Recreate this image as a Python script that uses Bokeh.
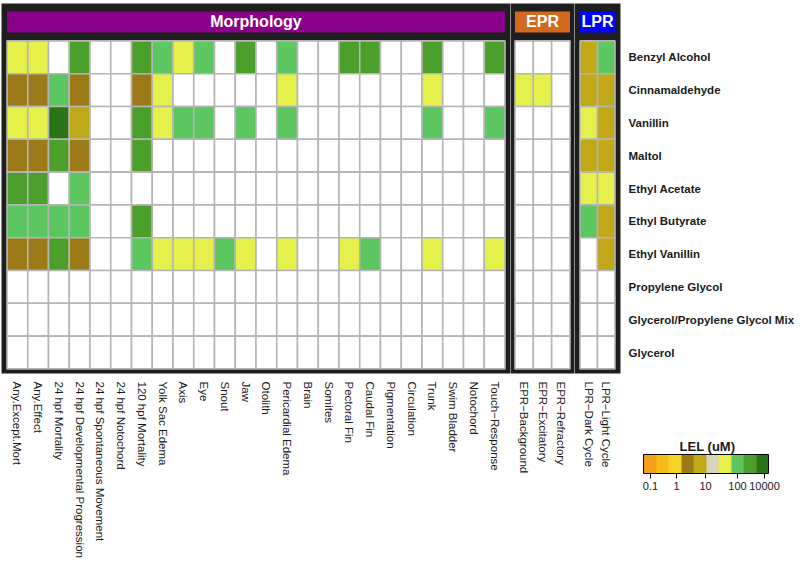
from bokeh.plotting import figure
from bokeh.models import (FactorRange, ColumnDataSource, LinearColorMapper, ColorBar,
                          FixedTicker, AllLabels)
from bokeh.transform import dodge
from bokeh.layouts import row
from bokeh.core.properties import value
from bokeh.embed import file_html
from bokeh.resources import INLINE

# ---------------- data ----------------
compounds = ["Benzyl Alcohol", "Cinnamaldehyde", "Vanillin", "Maltol", "Ethyl Acetate",
             "Ethyl Butyrate", "Ethyl Vanillin", "Propylene Glycol",
             "Glycerol/Propylene Glycol Mix", "Glycerol"]

morphology_endpoints = ["Any.Except.Mort", "Any.Effect", "24 hpf Mortality",
                        "24 hpf Developmental Progression", "24 hpf Spontaneous Movement",
                        "24 hpf Notochord", "120 hpf Mortality", "Yolk Sac Edema", "Axis", "Eye",
                        "Snout", "Jaw", "Otolith", "Pericardial Edema", "Brain", "Somites",
                        "Pectoral Fin", "Caudal Fin", "Pigmentation", "Circulation", "Trunk",
                        "Swim Bladder", "Notochord", "Touch\u2212Response"]
epr_endpoints = ["EPR\u2212Background", "EPR\u2212Excitatory", "EPR\u2212Refractory"]
lpr_endpoints = ["LPR\u2212Dark Cycle", "LPR\u2212Light Cycle"]

panel_names = ["Morphology", "EPR", "LPR"]
panel_colors = ["#8B008B", "#D2691E", "#0000FF"]

# LEL colour classes (0 = lowest LEL ... 9 = highest), None = no effect
palette = ["#F6A01A", "#F8BB1E", "#F5D426", "#9C7A18", "#C0A817",
           "#D8D5BC", "#E6F04A", "#5CC760", "#4C9F2B", "#2A7418"]
legend_title = "LEL (uM)"
legend_ticks = [0.56, 2.64, 4.96, 7.52, 9.68]
legend_labels = ["0.1", "1", "10", "100", "10000"]

N = None
# 24 morphology endpoints + 3 EPR + 2 LPR
benzyl_alcohol = [6, 6, N, 8, N, N, 8, 7, 6, 7, N, 8, N, 7, N, N, 8, 8, N, N, 8, N, N, 8,
                  N, N, N, 4, 7]
cinnamaldehyde = [3, 3, 7, 3, N, N, 3, 6, N, N, N, N, N, 6, N, N, N, N, N, N, 6, N, N, N,
                  6, 6, N, 4, 4]
vanillin = [6, 6, 9, 4, N, N, 8, 6, 7, 7, N, 7, N, 7, N, N, N, N, N, N, 7, N, N, 7,
            N, N, N, 6, 4]
maltol = [3, 3, 8, 3, N, N, 8, N, N, N, N, N, N, N, N, N, N, N, N, N, N, N, N, N,
          N, N, N, 4, 4]
ethyl_acetate = [8, 8, N, 7, N, N, N, N, N, N, N, N, N, N, N, N, N, N, N, N, N, N, N, N,
                 N, N, N, 6, 6]
ethyl_butyrate = [7, 7, 7, 7, N, N, 8, N, N, N, N, N, N, N, N, N, N, N, N, N, N, N, N, N,
                  N, N, N, 7, 4]
ethyl_vanillin = [3, 3, 8, 3, N, N, 7, 6, 6, 6, 7, 6, N, 6, N, N, 6, 7, N, N, 6, N, N, 6,
                  N, N, N, N, 4]
propylene_glycol = [N] * 29
glycerol_pg_mix = [N] * 29
glycerol = [N] * 29

levels = [benzyl_alcohol, cinnamaldehyde, vanillin, maltol, ethyl_acetate, ethyl_butyrate,
          ethyl_vanillin, propylene_glycol, glycerol_pg_mix, glycerol]

# ---------------- styling ----------------
FRAME_BG = "#1e1e1e"
GRID = "#b5b5b5"
FONT = "Liberation Sans"
FRAME_H = 370
HEADER = " "

y_factors = list(reversed(compounds)) + [HEADER]
y_range = FactorRange(factors=y_factors, range_padding=0.14, range_padding_units="absolute")

panels = [morphology_endpoints, epr_endpoints, lpr_endpoints]
widths = [509, 64, 46]
pads = [0.265, 0.245, 0.314]

mapper = LinearColorMapper(palette=palette, low=0, high=len(palette), nan_color="white")

figs = []
offset = 0
for k, cols in enumerate(panels):
    last = (k == len(panels) - 1)
    p = figure(x_range=FactorRange(factors=cols, range_padding=pads[k],
                                   range_padding_units="absolute"),
               y_range=y_range, frame_width=widths[k], frame_height=FRAME_H,
               output_backend="svg", toolbar_location=None,
               y_axis_location="right" if last else None,
               min_border_left=1 if k == 0 else 0, min_border_right=0, min_border_top=3,
               min_border_bottom=150 if last else 0)
    p.background_fill_color = FRAME_BG
    p.border_fill_color = "white"
    p.outline_line_color = None
    p.grid.visible = False

    xs, ys, lv = [], [], []
    for i, comp in enumerate(compounds):
        for j, c in enumerate(cols):
            v = levels[i][offset + j]
            xs.append(c)
            ys.append(comp)
            lv.append(float("nan") if v is None else float(v))
    src = ColumnDataSource(dict(x=xs, y=ys, level=lv))
    p.rect(x="x", y="y", width=1, height=1, source=src,
           fill_color={"field": "level", "transform": mapper},
           line_color=GRID, line_width=1.6)

    hsrc = ColumnDataSource(dict(x=[len(cols) / 2], y=[HEADER], w=[len(cols)],
                                 t=[panel_names[k]], c=[panel_colors[k]]))
    p.rect(x="x", y=dodge("y", 0.076, range=y_range), width="w", height=0.64,
           fill_color="c", line_color=None, source=hsrc)
    p.text(x="x", y=dodge("y", 0.076, range=y_range), text="t", source=hsrc,
           text_color="white", text_font=value(FONT), text_font_style="bold",
           text_font_size="16px", text_align="center", text_baseline="middle")

    xa = p.xaxis[0]
    xa.major_label_orientation = "vertical"
    xa.axis_line_color = None
    xa.major_tick_line_color = None
    xa.major_tick_in = 0
    xa.major_tick_out = 0
    xa.major_label_standoff = 8
    xa.major_label_text_font = FONT
    xa.major_label_text_font_size = "11.5px"
    xa.major_label_text_color = "#1a1a1a"

    if last:
        ya = p.yaxis[0]
        ya.axis_line_color = None
        ya.major_tick_line_color = None
        ya.major_tick_in = 0
        ya.major_tick_out = 0
        ya.major_label_standoff = 8
        ya.major_label_text_font = FONT
        ya.major_label_text_font_style = "bold"
        ya.major_label_text_font_size = "11.5px"
        ya.major_label_text_color = "#1a1a1a"

        # colour-bar title is drawn at the bar's left edge; non-breaking spaces centre it
        cb = ColorBar(color_mapper=mapper, orientation="horizontal", width=125, height=19,
                      ticker=FixedTicker(ticks=legend_ticks),
                      major_label_overrides={t: l for t, l in zip(legend_ticks, legend_labels)},
                      major_label_policy=AllLabels(),
                      major_tick_in=0, major_tick_out=5, major_tick_line_color="black",
                      bar_line_color="black", label_standoff=3, padding=0,
                      background_fill_color=None, border_line_color=None,
                      major_label_text_font=FONT, major_label_text_font_size="11px",
                      major_label_text_color="#1a1a1a",
                      title="\u00a0" * 10 + legend_title, title_text_font=FONT,
                      title_text_font_style="bold", title_text_font_size="13px",
                      title_text_color="#1a1a1a", title_standoff=2,
                      location=(69, -119))
        p.add_layout(cb, "center")
    offset += len(cols)
    figs.append(p)

layout = row(*figs, spacing=0)
open("out.html", "w").write(file_html(layout, INLINE))
